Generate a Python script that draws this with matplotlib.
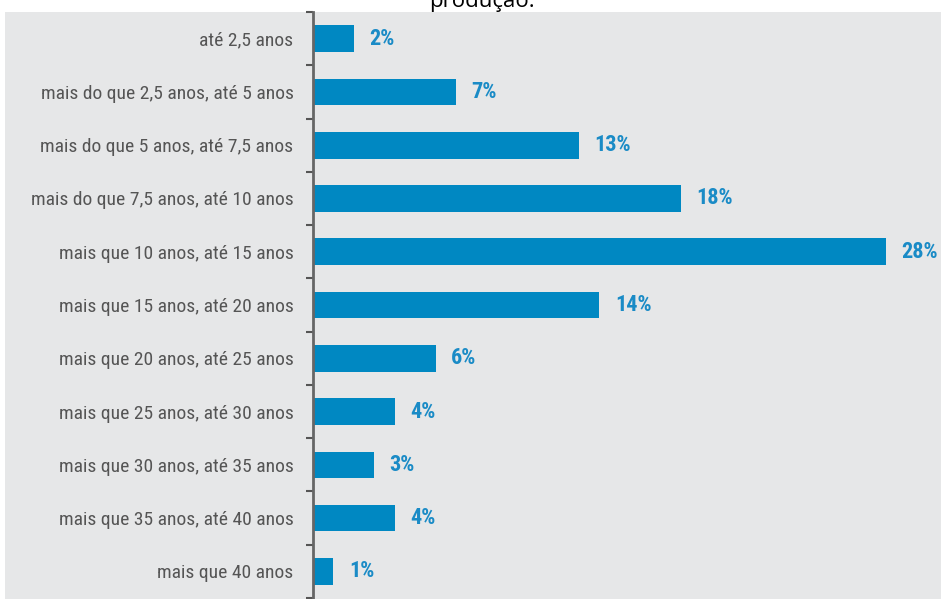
import matplotlib.pyplot as plt
from matplotlib.patches import Rectangle
import numpy as np

categorias = [
    "até 2,5 anos",
    "mais do que 2,5 anos, até 5 anos",
    "mais do que 5 anos, até 7,5 anos",
    "mais do que 7,5 anos, até 10 anos",
    "mais que 10 anos, até 15 anos",
    "mais que 15 anos, até 20 anos",
    "mais que 20 anos, até 25 anos",
    "mais que 25 anos, até 30 anos",
    "mais que 30 anos, até 35 anos",
    "mais que 35 anos, até 40 anos",
    "mais que 40 anos",
]
valores = [2, 7, 13, 18, 28, 14, 6, 4, 3, 4, 1]
rotulos = ["2%", "7%", "13%", "18%", "28%", "14%", "6%", "4%", "3%", "4%", "1%"]

cinza = "#e6e7e8"
azul = "#0088c2"
fonte = ["Roboto Condensed", "DejaVu Sans"]

W, H = 941, 599
fig = plt.figure(figsize=(W / 100, H / 100), dpi=100, facecolor="white")
fig.patches.append(Rectangle((5 / W, 0), 1, (H - 12) / H, transform=fig.transFigure,
                             facecolor=cinza, edgecolor="none", zorder=-10))

ax = fig.add_axes([313 / W, 1 / H, (W - 313) / W, (H - 13) / H])
ax.set_facecolor(cinza)

y = np.arange(len(categorias))
ax.barh(y, valores, height=0.5, color=azul, zorder=2)
for yi, v, r in zip(y, valores, rotulos):
    ax.text(v + 0.75, yi, r, va="center", ha="left", color="#1a8bc6",
            fontsize=16, fontweight="bold", family=fonte, fontstretch="condensed")

ax.set_ylim(len(categorias) - 0.5, -0.5)
ax.set_xlim(0, (W - 313) / 20.46)
ax.set_yticks(y)
ax.set_yticklabels(categorias, fontsize=14, color="#555555",
                   family=fonte, fontstretch="condensed")
ax.set_yticks(np.arange(-0.5, len(categorias), 1), minor=True)
ax.tick_params(axis="y", which="major", length=0, pad=14)
ax.tick_params(axis="y", which="minor", length=5, width=1.5, color="#555555")
ax.set_xticks([])
for s in ["top", "right", "bottom"]:
    ax.spines[s].set_visible(False)
ax.spines["left"].set_color("#666666")
ax.spines["left"].set_linewidth(2)

fig.text(482 / W, 1 - 7 / H, "produção:", ha="center", va="baseline",
         fontsize=16, color="black", family=["Open Sans", "DejaVu Sans"])

fig.savefig("out.png", dpi=100)
